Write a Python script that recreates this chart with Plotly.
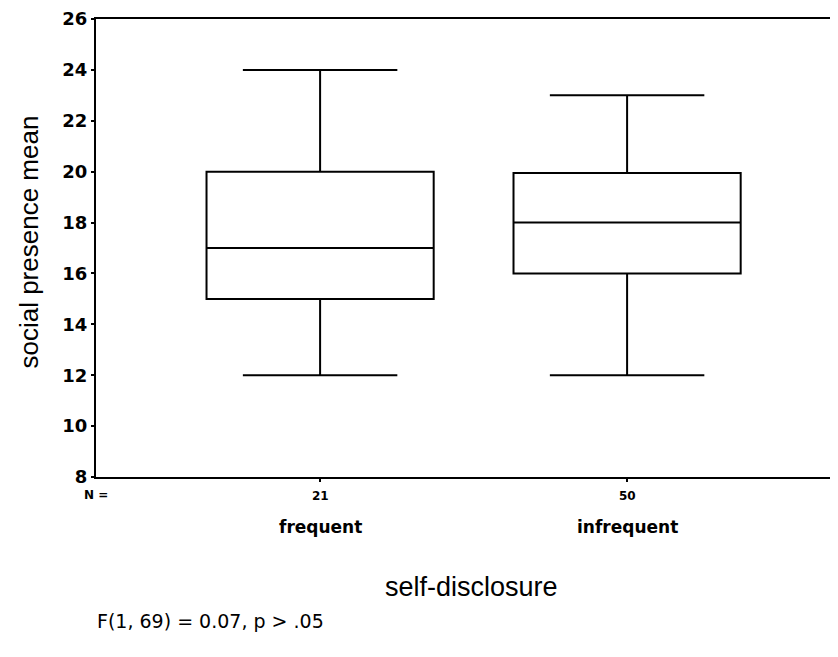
import plotly.graph_objects as go

categories = ["frequent", "infrequent"]
n_counts = ["21", "50"]
lower_whisker = [12, 12]
q1_vals = [15, 16]
medians = [17, 18]
q3_vals = [20, 19.95]
upper_whisker = [24, 23]
y_ticks = [8, 10, 12, 14, 16, 18, 20, 22, 24, 26]

W, H = 830, 649
L, T, B, R = 88, 8, 180, 0
PW, PH = W - L - R, H - T - B


def px(xf):
    return (xf - L) / PW


def py(yf):
    return (H - B - yf) / PH


fig = go.Figure()
fig.add_trace(go.Box(
    x=categories,
    q1=q1_vals, median=medians, q3=q3_vals,
    lowerfence=lower_whisker, upperfence=upper_whisker,
    width=0.74, whiskerwidth=0.68,
    fillcolor="white",
    line=dict(color="black", width=2),
    boxpoints=False, hoverinfo="skip",
    showlegend=False,
))

for cat, n in zip(categories, n_counts):
    fig.add_annotation(x=cat, y=py(488), xref="x", yref="paper", text="<b>" + n + "</b>",
                       showarrow=False, yanchor="middle",
                       font=dict(size=12, color="black", family="DejaVu Sans"))
    fig.add_annotation(x=cat, y=py(519), xref="x", yref="paper", text="<b>" + cat + "</b>",
                       showarrow=False, yanchor="middle",
                       font=dict(size=17, color="black", family="DejaVu Sans"))

fig.add_annotation(x=px(74), y=py(487), xref="paper", yref="paper", text="<b>N =</b>",
                   showarrow=False, yanchor="middle", xanchor="left",
                   font=dict(size=12, color="black", family="DejaVu Sans"))
fig.add_annotation(x=px(87), y=py(614), xref="paper", yref="paper",
                   text="F(1, 69) = 0.07, p > .05", showarrow=False,
                   xanchor="left", yanchor="middle",
                   font=dict(size=19, color="black", family="DejaVu Sans"))
fig.add_annotation(x=px(464), y=py(580), xref="paper", yref="paper",
                   text="self-disclosure", showarrow=False,
                   xanchor="center", yanchor="middle",
                   font=dict(size=27, color="black", family="Liberation Sans"))
fig.add_annotation(x=px(21), y=py(233), xref="paper", yref="paper",
                   text="social presence mean", showarrow=False, textangle=-90,
                   xanchor="center", yanchor="middle",
                   font=dict(size=26, color="black", family="Liberation Sans"))

fig.update_layout(
    width=W, height=H,
    margin=dict(l=L, r=R, t=T, b=B),
    plot_bgcolor="white", paper_bgcolor="white",
    font=dict(family="Liberation Sans", color="black"),
    xaxis=dict(
        type="category", range=[-0.73, 1.687],
        showline=True, linecolor="black", linewidth=2, mirror=True,
        ticks="outside", ticklen=3, tickwidth=2, tickcolor="black",
        tickvals=categories, showticklabels=False,
        showgrid=False, zeroline=False,
    ),
    yaxis=dict(
        range=[8, 26], tickvals=y_ticks,
        ticktext=["<b>" + str(t) + "</b>" for t in y_ticks],
        showline=True, linecolor="black", linewidth=2,
        ticks="outside", ticklen=3, tickwidth=2, tickcolor="black",
        tickfont=dict(size=18, family="DejaVu Sans"),
        ticklabeloverflow="allow",
        showgrid=False, zeroline=False,
    ),
)

fig.write_html("out.html")
